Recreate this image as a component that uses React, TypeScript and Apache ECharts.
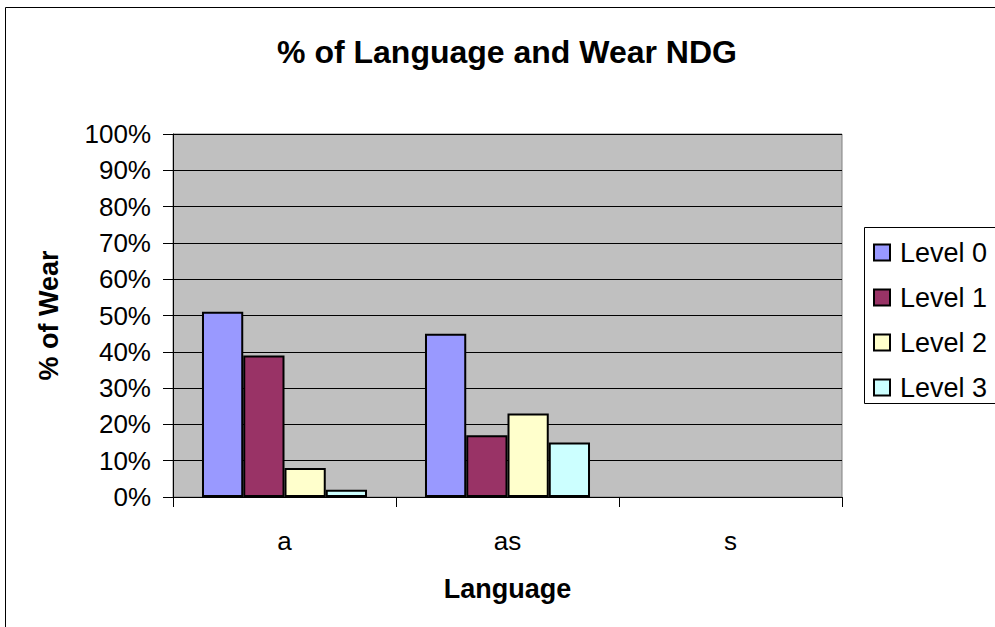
import React, { useEffect, useRef } from "react";
import * as echarts from "echarts";

const categories = ["a", "as", "s"];
const seriesNames = ["Level 0", "Level 1", "Level 2", "Level 3"];
const level0 = [51, 45, 0];
const level1 = [39, 17, 0];
const level2 = [8, 23, 0];
const level3 = [2, 15, 0];
const colors = ["#9999FF", "#993366", "#FFFFCC", "#CCFFFF"];
const titleText = "% of Language and Wear NDG";
const xName = "Language";
const yName = "% of Wear";

const FONT = "'Liberation Sans', Arial, sans-serif";

export default function App() {
  const ref = useRef<HTMLDivElement>(null);
  useEffect(() => {
    if (!ref.current) return;
    const chart = echarts.init(ref.current, undefined, { renderer: "svg" });
    const values = [level0, level1, level2, level3];
    chart.setOption({
      animation: false,
      backgroundColor: "#FFFFFF",
      textStyle: { fontFamily: FONT, color: "#000" },
      grid: {
        left: 173,
        top: 134,
        right: 153,
        bottom: 130,
        show: true,
        backgroundColor: "#C0C0C0",
        borderColor: "#808080",
        borderWidth: 1,
      },
      graphic: [
        {
          type: "rect",
          shape: { x: 5.5, y: 7.5, width: 1200, height: 800 },
          style: { fill: "none", stroke: "#000", lineWidth: 1 },
          silent: true,
          z: 0,
        },
        {
          type: "rect",
          shape: { x: 864.5, y: 227.5, width: 300, height: 176 },
          style: { fill: "#FFFFFF", stroke: "#000", lineWidth: 1 },
          silent: true,
          z: 0,
        },
        {
          type: "text",
          x: 507,
          y: 52,
          style: {
            text: titleText,
            fontFamily: FONT,
            fontSize: 32,
            fontWeight: "bold",
            fill: "#000",
            textAlign: "center",
            textVerticalAlign: "middle",
          },
          z: 10,
        },
      ],
      legend: {
        orient: "vertical",
        left: 873,
        top: 239,
        itemWidth: 16,
        itemHeight: 16,
        itemGap: 18,
        icon: "rect",
        padding: 0,
        data: seriesNames,
        textStyle: {
          fontFamily: FONT,
          fontSize: 27,
          lineHeight: 26,
          color: "#000",
          padding: [0, 0, 0, 5],
        },
        z: 10,
      },
      xAxis: {
        type: "category",
        data: categories,
        name: xName,
        nameLocation: "middle",
        nameGap: 78,
        nameTextStyle: { fontFamily: FONT, fontSize: 27, fontWeight: "bold", color: "#000" },
        axisLine: { show: true, lineStyle: { color: "#000", width: 1 } },
        axisTick: { show: true, length: 10, alignWithLabel: false, lineStyle: { color: "#000" } },
        axisLabel: { fontFamily: FONT, fontSize: 26, color: "#000", margin: 31 },
        splitLine: { show: false },
      },
      yAxis: {
        type: "value",
        min: 0,
        max: 100,
        interval: 10,
        name: yName,
        nameLocation: "middle",
        nameRotate: 90,
        nameGap: 111,
        nameTextStyle: { fontFamily: FONT, fontSize: 27, fontWeight: "bold", color: "#000" },
        axisLine: { show: true, lineStyle: { color: "#000", width: 1 } },
        axisTick: { show: true, inside: false, length: 10, lineStyle: { color: "#000" } },
        axisLabel: { fontFamily: FONT, fontSize: 26, color: "#000", margin: 22, formatter: "{value}%" },
        splitLine: { show: true, lineStyle: { color: "#000", width: 1 } },
      },
      series: seriesNames.map((name, i) => ({
        name,
        type: "bar",
        data: values[i].map((v) =>
          v === 0 ? { value: v, itemStyle: { borderWidth: 0 } } : v
        ),
        barGap: "0%",
        barCategoryGap: "26%",
        itemStyle: { color: colors[i], borderColor: "#000", borderWidth: 2 },
        emphasis: { disabled: true },
      })),
    });
    return () => chart.dispose();
  }, []);
  return <div ref={ref} style={{ width: 995, height: 627, position: "absolute", left: 0, top: 0 }} />;
}
